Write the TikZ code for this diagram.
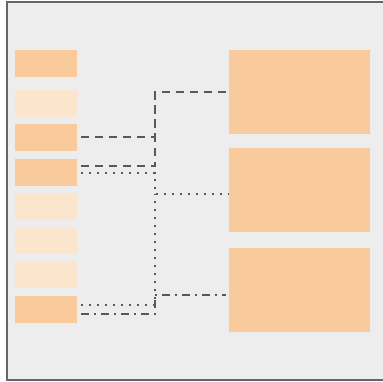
\documentclass[tikz,border=0pt]{standalone}
\usepackage{xcolor}
\usepackage{tikz}
\usetikzlibrary{positioning, calc}

\definecolor{panelbg}{HTML}{EDEDED}
\definecolor{framegray}{HTML}{666666}
\definecolor{linegray}{HTML}{595959}
\definecolor{peach}{HTML}{F9CB9C}
\definecolor{peachlight}{HTML}{FCE5CD}

\begin{document}
\begin{tikzpicture}[
    x=1pt, y=-1pt,
    smallbox/.style={draw=none, fill=#1, minimum width=62pt, minimum height=27pt, inner sep=0pt},
    bigbox/.style={draw=none, fill=peach, minimum width=141pt, minimum height=84pt, inner sep=0pt},
    dashline/.style={linegray, line width=2pt, dash pattern=on 8pt off 6pt},
    dotline/.style={linegray, line width=2pt, dash pattern=on 2pt off 6pt},
    dashdotline/.style={linegray, line width=2pt, dash pattern=on 8pt off 5pt on 2pt off 5pt}
]
    \useasboundingbox (0,0) rectangle (382,382);
    % Panel
    \draw[framegray, line width=2pt, fill=panelbg] (7,2) rectangle (400,380);

    % Left column
    \node[smallbox=peach]      (l1) at (46,63.5)  {};
    \node[smallbox=peachlight] (l2) at (46,103.5) {};
    \node[smallbox=peach]      (l3) at (46,137.5) {};
    \node[smallbox=peach]      (l4) at (46,172.5) {};
    \node[smallbox=peachlight] (l5) at (46,206.5) {};
    \node[smallbox=peachlight] (l6) at (46,240.5) {};
    \node[smallbox=peachlight] (l7) at (46,274.5) {};
    \node[smallbox=peach]      (l8) at (46,309.5) {};

    % Right column
    \node[bigbox] (r1) at (299.5,92)  {};
    \node[bigbox] (r2) at (299.5,190) {};
    \node[bigbox] (r3) at (299.5,290) {};

    % Junctions
    \coordinate (j1) at (155,92);
    \coordinate (j2) at (155,194);
    \coordinate (j3) at (155,295);

    % Dashed group
    \draw[dashline] ([xshift=4pt]l3.east) -| (j1) -- ([xshift=-3pt]r1.west);
    \draw[dashline] ([xshift=4pt,yshift=6.5pt]l4.east) -| (j1);

    % Dotted group
    \draw[dotline] ([xshift=4pt]l4.east) -| (j2) -- ([xshift=-1pt,yshift=-4pt]r2.west);
    \draw[dotline] ([xshift=4pt,yshift=4.5pt]l8.east) -| (j2);

    % Dash-dot group
    \draw[dashdotline] ([xshift=4pt,yshift=-4.5pt]l8.east) -| (j3) -- ([xshift=-3pt,yshift=-5pt]r3.west);
\end{tikzpicture}
\end{document}
